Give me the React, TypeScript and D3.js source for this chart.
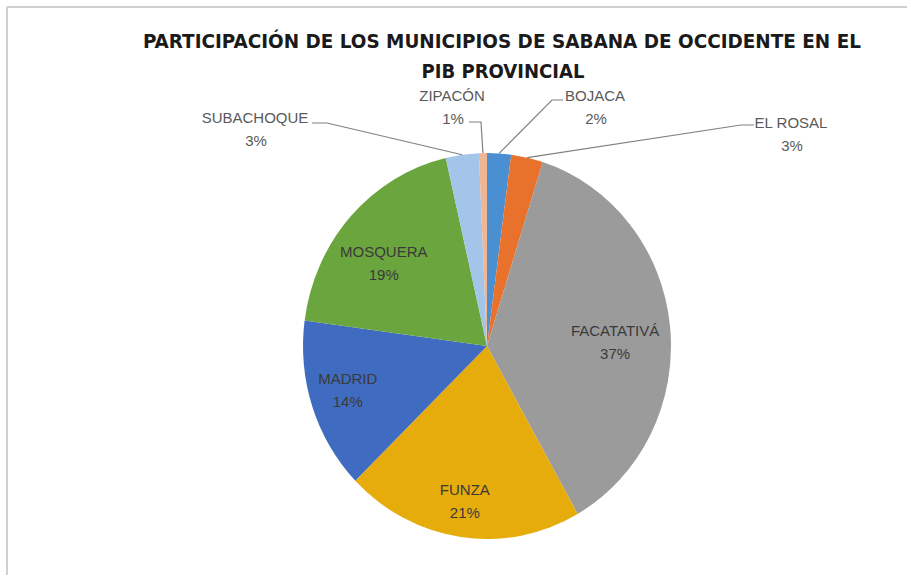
import React from 'react';
import * as d3 from 'd3';

// ---- data ----
const municipios = ['BOJACA', 'EL ROSAL', 'FACATATIVÁ', 'FUNZA', 'MADRID', 'MOSQUERA', 'SUBACHOQUE', 'ZIPACÓN'];
const participacion = [2.1, 2.8, 36.9, 20.9, 14.4, 19.3, 2.9, 0.7];
const colores = ['#4a8fd2', '#e8722c', '#9b9b9b', '#e6ac0c', '#3f6cc0', '#6aa53e', '#a3c5ea', '#f0b592'];
const titulo1 = 'PARTICIPACIÓN DE LOS MUNICIPIOS DE SABANA DE OCCIDENTE EN EL';
const titulo2 = 'PIB PROVINCIAL';

// ---- layout (not data) ----
const W = 907, H = 575;
const cx = 487, cy = 346, rx = 184, ry = 193;
const FONT = "'Liberation Sans', Arial, sans-serif";
const TITLE_FONT = "'DejaVu Sans Condensed', 'Liberation Sans Narrow', 'Liberation Sans', sans-serif";
const LINE = 23;

// inner label offsets from centroid (px)
const innerOffset: Record<string, [number, number]> = {
  'FACATATIVÁ': [0, 10],
  'FUNZA': [-4, 22],
  'MADRID': [-17, 2],
  'MOSQUERA': [-8, 8],
};
// outer labels: line-1 center position and leader geometry near the label
const outerLayout: Record<string, { x: number; y: number; elbowX: number; startX: number; lineY: number }> = {
  'SUBACHOQUE': { x: 255, y: 118, startX: 312, elbowX: 327, lineY: 123 },
  'ZIPACÓN': { x: 452, y: 96, startX: 469, elbowX: 481, lineY: 122 },
  'BOJACA': { x: 595, y: 96, startX: 563, elbowX: 552, lineY: 100 },
  'EL ROSAL': { x: 791, y: 123, startX: 754, elbowX: 741, lineY: 125 },
};

export default function App() {
  const total = d3.sum(participacion);
  const pct = d3.format('.0%');
  const arcs = d3.pie<number>().sort(null).value((d) => d)(participacion);
  const arcGen = d3.arc<d3.PieArcDatum<number>>().innerRadius(0).outerRadius(ry);
  const labelArc = d3.arc<d3.PieArcDatum<number>>().innerRadius(ry * 0.7).outerRadius(ry * 0.7);
  const sx = rx / ry;

  return (
    <svg width={W} height={H} style={{ position: 'absolute', left: 0, top: 0, background: '#fff' }}>
      <rect x={0} y={0} width={W} height={H} fill="#fff" />
      <line x1={7} y1={7} x2={W} y2={7} stroke="#cfcfcf" strokeWidth={2} />
      <line x1={7} y1={7} x2={7} y2={H} stroke="#cfcfcf" strokeWidth={2} />

      <text x={502} y={48} textAnchor="middle" fontFamily={TITLE_FONT} fontWeight="bold" fontSize={19.5} fill="#1a1a1a"
        textLength={718} lengthAdjust="spacingAndGlyphs">{titulo1}</text>
      <text x={503} y={78} textAnchor="middle" fontFamily={TITLE_FONT} fontWeight="bold" fontSize={19.5} fill="#1a1a1a"
        textLength={163} lengthAdjust="spacingAndGlyphs">{titulo2}</text>

      <g transform={`translate(${cx},${cy}) scale(${sx},1)`}>
        {arcs.map((a, i) => (
          <path key={i} d={arcGen(a) || ''} fill={colores[i]} />
        ))}
      </g>

      {arcs.map((a, i) => {
        const name = municipios[i];
        const txt = pct(a.value / total);
        if (innerOffset[name]) {
          const c = labelArc.centroid(a);
          const [dx, dy] = innerOffset[name];
          const x = cx + c[0] * sx + dx;
          const y = cy + c[1] + dy;
          return (
            <g key={i} fontFamily={FONT} fontSize={15} fill="#3a3a3a" textAnchor="middle">
              <text x={x} y={y - LINE / 2 + 5}>{name}</text>
              <text x={x} y={y + LINE / 2 + 5}>{txt}</text>
            </g>
          );
        }
        const L = outerLayout[name];
        const mid = (a.startAngle + a.endAngle) / 2;
        const ex = cx + rx * Math.sin(mid);
        const ey = cy - ry * Math.cos(mid);
        return (
          <g key={i}>
            <polyline points={`${L.startX},${L.lineY} ${L.elbowX},${L.lineY} ${ex},${ey}`} fill="none" stroke="#808080" strokeWidth={1.2} />
            <g fontFamily={FONT} fontSize={15} fill="#595959" textAnchor="middle">
              <text x={L.x} y={L.y + 5}>{name}</text>
              <text x={L.x + 1} y={L.y + LINE + 5}>{txt}</text>
            </g>
          </g>
        );
      })}
    </svg>
  );
}
